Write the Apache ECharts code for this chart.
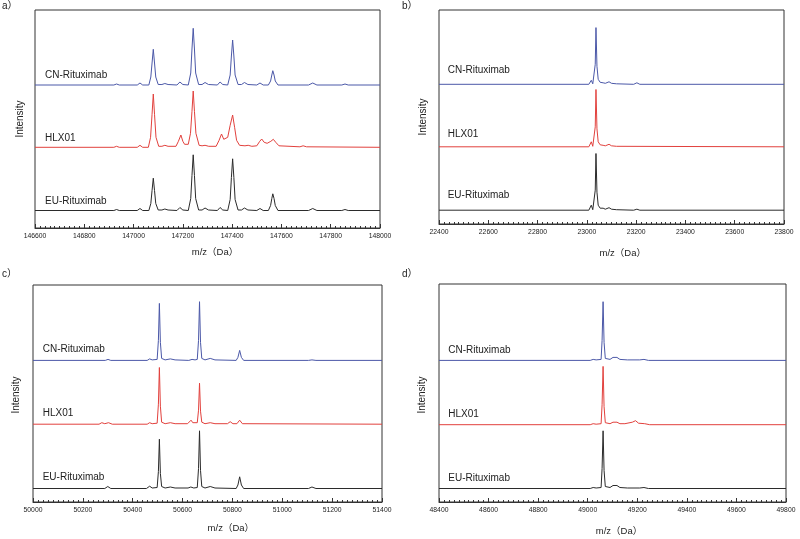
<!DOCTYPE html>
<html>
<head>
<meta charset="utf-8">
<script src="https://cdn.jsdelivr.net/npm/echarts@6/dist/echarts.min.js"></script>
<style>
html,body{margin:0;padding:0;background:#fff;}
#chart{width:800px;height:539px;}
</style>
</head>
<body>
<div id="chart"></div>
<script>
// ---------- data ----------
const sampleNames = ['CN-Rituximab', 'HLX01', 'EU-Rituximab'];
const panelLetters = ['a）', 'b）', 'c）', 'd）'];
const xRanges = [[146600, 148000], [22400, 23800], [50000, 51400], [48400, 49800]];
const xTickStep = 200;
const xAxisTitle = 'm/z（Da）';
const yAxisTitle = 'Intensity';

// panel a – intact mass
const aCN = [[146600,0],[146920,0],[146931,1],[146942,0],[147015,0],[147026,2],[147037,0],
 [147062,0],[147070,8],[147075,22],[147080,35.7],[147085,22],[147090,8],[147100,0.5],
 [147115,0.5],[147127,1.5],[147140,0.5],[147176,0],[147188,3],[147200,0.5],
 [147222,0],[147232,12],[147237,36],[147242,56.7],[147247,36],[147252,12],[147264,0.5],
 [147278,0.5],[147290,2.5],[147304,0.5],[147340,0],[147351,3],[147362,0.5],
 [147382,0],[147392,10],[147397,29],[147402,45],[147407,29],[147412,10],[147424,0.5],
 [147438,0.5],[147450,2.5],[147464,0.5],[147500,0],[147513,2],[147526,0],
 [147547,0],[147556,4],[147561,10],[147565,14.3],[147570,10],[147575,4],[147586,0],
 [147710,0],[147727,2],[147744,0],[147845,0],[147858,1],[147871,0],[148000,0]];
const aHLX = [[146600,0],[146920,0],[146931,1],[146942,0],[147015,0],[147026,2],[147037,0],
 [147060,0],[147069,10],[147075,33],[147080,53.3],[147085,33],[147091,10],[147102,1],
 [147115,1],[147127,2],[147140,1],[147172,1],[147182,6],[147192,12.3],[147200,6],[147207,3],
 [147222,3],[147231,14],[147237,36],[147242,56.3],[147247,36],[147253,14],[147266,2],
 [147278,1.5],[147290,2],[147305,1],[147335,1],[147347,7],[147357,13.3],[147366,8],[147372,7],
 [147382,10],[147392,22],[147402,32.3],[147410,20],[147418,7],[147430,2],
 [147452,1.5],[147465,2],[147480,1],[147500,1.5],[147512,6],[147520,8.3],[147530,5],[147542,4],
 [147557,6],[147567,8],[147577,5],[147590,1.5],[147675,0.5],[147688,1.5],[147702,0.5],[148000,0]];
const aEU = [[146600,0],[146920,0],[146931,1],[146942,0],[147015,0],[147026,2],[147037,0],
 [147062,0],[147070,7],[147075,20],[147080,32.3],[147085,20],[147090,7],[147100,0.5],
 [147115,0.5],[147127,1.5],[147140,0.5],[147176,0],[147188,3],[147200,0.5],
 [147222,0],[147232,12],[147237,35],[147242,55.7],[147247,35],[147252,12],[147264,0.5],
 [147278,0.5],[147290,2.5],[147304,0.5],[147340,0],[147351,3],[147362,0.5],
 [147382,0],[147392,11],[147397,33],[147402,51.7],[147407,33],[147412,11],[147424,0.5],
 [147438,0.5],[147450,2.5],[147464,0.5],[147500,0],[147513,2],[147526,0],
 [147547,0],[147556,5],[147561,12],[147565,16.7],[147570,12],[147575,5],[147586,0],
 [147710,0],[147727,2],[147744,0],[147845,0],[147858,1],[147871,0],[148000,0]];

// panel b – light chain
const bCN = [[22400,0],[23008,0],[23018,4],[23024,0.5],[23030,1],[23034,20],[23037,56.7],[23041,18],
 [23046,5],[23054,2],[23060,1],[23066,1.5],[23075,1],[23082,1.5],[23090,2.5],[23100,1],[23120,0.5],
 [23190,0],[23203,1.5],[23215,0],[23800,0]];
const bHLX = [[22400,0],[23008,0],[23018,5],[23024,0.5],[23030,1],[23034,20],[23037,57.3],[23041,18],
 [23046,5],[23054,2],[23060,1],[23066,1.5],[23075,1],[23082,1.5],[23090,2.5],[23100,1],[23120,0.5],
 [23800,0]];
const bEU = [[22400,0],[23008,0],[23018,5],[23024,0.5],[23030,1],[23034,20],[23037,56.7],[23041,18],
 [23046,5],[23054,2],[23060,1],[23066,2],[23075,1],[23082,1.5],[23090,2.5],[23100,1],[23120,0.5],
 [23190,0],[23203,1],[23215,0],[23800,0]];

// panel c – heavy chain
const cCN = [[50000,0],[50290,0],[50301,1],[50312,0],[50458,0],[50468,1.5],[50478,0.5],[50498,1],
 [50503,20],[50507,57],[50511,18],[50516,2],[50530,0.5],[50551,1.5],[50570,0.5],[50625,0],[50638,1],
 [50650,0.5],[50659,1],[50664,20],[50668,58.7],[50672,18],[50677,2],[50690,0.5],[50711,2],[50730,0.5],
 [50815,0],[50822,3],[50829,10],[50836,3],[50845,0],[51105,0],[51119,0.5],[51135,0],[51400,0]];
const cHLX = [[50000,0],[50265,0],[50276,1.5],[50288,0.5],[50303,1.5],[50318,0],[50458,0],[50468,1.5],
 [50478,0.5],[50498,1],[50503,20],[50507,56.7],[50511,18],[50516,2],[50530,0.5],[50551,1.5],[50570,0.5],
 [50620,0.5],[50627,2],[50634,4],[50641,1.5],[50659,1.5],[50664,14],[50668,41],[50672,13],[50677,2],
 [50690,0.5],[50711,1.5],[50730,0.5],[50780,0.5],[50791,2.5],[50802,0.5],[50818,0.5],[50829,4],
 [50840,0.5],[51400,0]];
const cEU = [[50000,0],[50288,0],[50300,2],[50312,0],[50455,0],[50468,2.3],[50478,0.5],[50498,1],
 [50503,17],[50507,49.3],[50511,15],[50516,2],[50530,0.5],[50551,1.5],[50570,0.5],[50622,0.5],
 [50633,1.5],[50645,0.5],[50659,1],[50664,20],[50668,57.7],[50672,18],[50677,2],[50690,0.5],
 [50711,2],[50730,0.5],[50815,0],[50822,3.5],[50829,11.7],[50836,3.5],[50845,0],[51105,0],
 [51119,1.5],[51135,0],[51400,0]];

// panel d – deglycosylated heavy chain
const dCN = [[48400,0],[49010,0],[49022,1],[49034,0.5],[49054,1],[49058,20],[49062,58.7],[49066,18],
 [49071,2],[49090,1],[49102,3],[49110,5],[49118,3],[49130,1],[49160,0.5],[49210,0.5],[49227,1],
 [49245,0],[49800,0]];
const dHLX = [[48400,0],[49010,0],[49022,1],[49034,0.5],[49054,1],[49058,20],[49062,58.3],[49066,18],
 [49071,2],[49090,1],[49102,2.5],[49110,4],[49118,2.5],[49130,1],[49150,1],[49180,2.5],[49193,4],
 [49205,1.5],[49230,1],[49250,0],[49800,0]];
const dEU = [[48400,0],[49010,0],[49022,1],[49034,0.5],[49054,1],[49058,20],[49062,57.7],[49066,18],
 [49071,2],[49090,1],[49102,3],[49110,4.5],[49118,3],[49130,1],[49160,0.5],[49210,0.5],[49227,1],
 [49245,0],[49800,0]];

const panelData = [[aCN, aHLX, aEU], [bCN, bHLX, bEU], [cCN, cHLX, cEU], [dCN, dHLX, dEU]];

// ---------- layout ----------
const FONT = '"Liberation Sans", Arial, "Noto Sans CJK SC", sans-serif';
const TXT = '#222';
const colors = ['#4b58a8', '#e2413d', '#2b2b2b'];
const grids = [
  {left: 35, top: 10, width: 345, height: 218},
  {left: 439, top: 10, width: 345, height: 214},
  {left: 33, top: 285, width: 349, height: 217},
  {left: 439, top: 284, width: 347, height: 218}
];
const offsets = [[143, 80.7, 17.5], [139.7, 77.2, 13.8], [141.6, 77.8, 13.5], [141.6, 77.3, 13.5]];
const labelPos = [
  [[45, 76], [45, 139.3], [45, 202.7]],
  [[447.7, 71], [447.7, 135], [447.7, 196]],
  [[42.7, 350], [42.7, 414.3], [42.7, 478.3]],
  [[448.3, 351.7], [448.3, 415.7], [448.3, 479]]
];
const letterPos = [[2, 7], [402, 7], [2, 275], [402, 275]];
const yTitlePos = [[20.7, 119], [423, 117], [16, 395], [422.7, 395]];
const xTitlePos = [[215, 252.7], [622.7, 253.3], [230.8, 528.3], [619, 531]];

const option = {
  backgroundColor: '#fff',
  animation: false,
  grid: grids.map(g => Object.assign({show: true, borderColor: '#333', borderWidth: 1, backgroundColor: 'transparent'}, g)),
  xAxis: grids.map((g, i) => ({
    type: 'value', gridIndex: i, min: xRanges[i][0], max: xRanges[i][1], interval: xTickStep,
    axisLine: {show: true, lineStyle: {color: '#333', width: 1}},
    axisTick: {show: true, inside: true, length: 4, lineStyle: {color: '#333'}},
    minorTick: {show: true, splitNumber: 10, length: 2, lineStyle: {color: '#333'}},
    splitLine: {show: false},
    axisLabel: {fontSize: 6.8, color: TXT, fontFamily: FONT, margin: 5, showMinLabel: true, showMaxLabel: true,
      formatter: v => String(v)}
  })),
  yAxis: grids.map((g, i) => ({
    type: 'value', gridIndex: i, min: 0, max: g.height, show: false
  })),
  series: [],
  graphic: []
};
panelData.forEach((traces, p) => {
  traces.forEach((tr, k) => {
    option.series.push({
      type: 'line', xAxisIndex: p, yAxisIndex: p, showSymbol: false, symbol: 'none',
      data: tr.map(([x, y]) => [x, y + offsets[p][k]]),
      lineStyle: {color: colors[k], width: 1}, silent: true
    });
    option.graphic.push({
      type: 'text', left: labelPos[p][k][0], top: labelPos[p][k][1] - 6,
      style: {text: sampleNames[k], font: '10px ' + FONT, fill: TXT}
    });
  });
  option.graphic.push({
    type: 'text', left: letterPos[p][0], top: letterPos[p][1] - 6,
    style: {text: panelLetters[p], font: '10px ' + FONT, fill: TXT}
  });
  option.graphic.push({
    type: 'text', x: yTitlePos[p][0], y: yTitlePos[p][1], rotation: Math.PI / 2,
    style: {text: yAxisTitle, font: '10px ' + FONT, fill: TXT, align: 'center', verticalAlign: 'middle'}
  });
  option.graphic.push({
    type: 'text', x: xTitlePos[p][0], y: xTitlePos[p][1],
    style: {text: xAxisTitle, font: '9.5px ' + FONT, fill: TXT, align: 'center', verticalAlign: 'middle'}
  });
});

const chart = echarts.init(document.getElementById('chart'), null, {renderer: 'canvas'});
chart.setOption(option);
</script>
</body>
</html>
